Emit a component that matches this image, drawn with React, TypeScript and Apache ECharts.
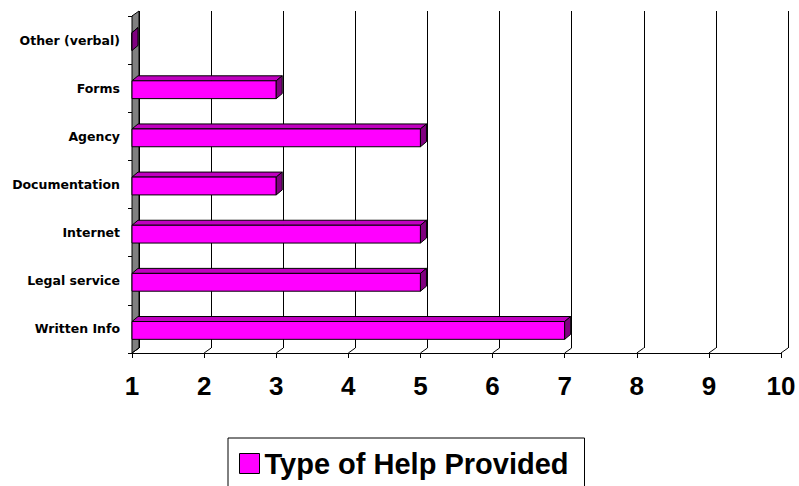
import React, { useEffect, useRef } from "react";
import * as echarts from "echarts";

const categories = ["Written Info", "Legal service", "Internet", "Documentation", "Agency", "Forms", "Other (verbal)"];
const helpValues = [7, 5, 5, 3, 5, 3, 1];
const xTicks = [1, 2, 3, 4, 5, 6, 7, 8, 9, 10];
const seriesName = "Type of Help Provided";

const X_MIN = 1;
const X_MAX = 10;
const WALL_DX = 7;
const WALL_DY = 5;
const BAR_DX = 6;
const BAR_DY = 5;

export default function App() {
  const ref = useRef<HTMLDivElement>(null);

  useEffect(() => {
    if (!ref.current) return;
    const chart = echarts.init(ref.current, null, { renderer: "svg" });

    const option: any = {
      animation: false,
      backgroundColor: "#ffffff",
      grid: [
        { left: 132, right: 18, top: 16, bottom: 133 },
        { left: 139, right: 11, top: 11, bottom: 138 },
      ],
      xAxis: [
        {
          gridIndex: 0,
          type: "value",
          min: X_MIN,
          max: X_MAX,
          interval: 1,
          axisLine: { show: true, lineStyle: { color: "#000", width: 1 } },
          axisTick: { show: true, length: 5, lineStyle: { color: "#000" } },
          splitLine: { show: false },
          axisLabel: {
            margin: 20,
            color: "#000",
            fontFamily: "'Liberation Sans', Arial, sans-serif",
            fontWeight: "bold",
            fontSize: 26,
          },
        },
        {
          gridIndex: 1,
          type: "value",
          min: X_MIN,
          max: X_MAX,
          interval: 1,
          axisLine: { show: false },
          axisTick: { show: false },
          axisLabel: { show: false },
          splitLine: { show: true, lineStyle: { color: "#000", width: 1 } },
        },
      ],
      yAxis: [
        {
          gridIndex: 0,
          type: "category",
          data: categories,
          axisLine: { show: true, lineStyle: { color: "#000", width: 1 } },
          axisTick: { show: true, length: 4, lineStyle: { color: "#000" } },
          splitLine: { show: false },
          axisLabel: {
            margin: 12,
            color: "#000",
            fontFamily: "'DejaVu Sans', sans-serif",
            fontWeight: "bold",
            fontSize: 12.5,
          },
        },
        {
          gridIndex: 1,
          type: "value",
          min: 0,
          max: 1,
          show: false,
        },
      ],
      legend: {
        left: 228,
        top: 438,
        data: [
          {
            name: seriesName,
            icon: "rect",
            itemStyle: { color: "#FF00FF", borderColor: "#000", borderWidth: 1 },
          },
        ],
        itemWidth: 20,
        itemHeight: 20,
        itemGap: 5,
        padding: [11, 16, 20, 11],
        borderColor: "#000",
        borderWidth: 1,
        textStyle: {
          color: "#000",
          fontFamily: "'Liberation Sans', Arial, sans-serif",
          fontWeight: "bold",
          fontSize: 29,
        },
      },
      series: [
        {
          type: "custom",
          name: "walls",
          xAxisIndex: 0,
          yAxisIndex: 0,
          silent: true,
          z: 1,
          data: [[X_MIN, 0]],
          renderItem: (params: any, api: any) => {
            const cs = params.coordSys;
            const left = cs.x;
            const top = cs.y;
            const bottom = cs.y + cs.height;
            const children: any[] = [
              {
                type: "polygon",
                shape: {
                  points: [
                    [left, top],
                    [left + WALL_DX, top - WALL_DY],
                    [left + WALL_DX, bottom - WALL_DY],
                    [left, bottom],
                  ],
                },
                style: { fill: "#808080", stroke: "#000", lineWidth: 1 },
              },
            ];
            xTicks.forEach((t) => {
              const px = api.coord([t, 0])[0];
              children.push({
                type: "line",
                shape: { x1: px, y1: bottom, x2: px + WALL_DX, y2: bottom - WALL_DY },
                style: { stroke: "#000", lineWidth: 1 },
              });
            });
            return { type: "group", children };
          },
        },
        {
          type: "custom",
          name: seriesName,
          xAxisIndex: 0,
          yAxisIndex: 0,
          z: 3,
          itemStyle: { color: "#FF00FF", borderColor: "#000", borderWidth: 1 },
          data: helpValues.map((v, i) => [v, i]),
          renderItem: (params: any, api: any) => {
            const v = api.value(0);
            const ci = api.value(1);
            const p1 = api.coord([X_MIN, ci]);
            const p2 = api.coord([v, ci]);
            const band = api.size([0, 1])[1];
            const h = band * 0.37;
            const yc = p1[1] + 1.5;
            const y0 = yc - h / 2;
            const y1 = yc + h / 2;
            const x0 = p1[0];
            const x1 = p2[0];
            return {
              type: "group",
              children: [
                {
                  type: "polygon",
                  shape: {
                    points: [
                      [x0, y0],
                      [x0 + BAR_DX, y0 - BAR_DY],
                      [x1 + BAR_DX, y0 - BAR_DY],
                      [x1, y0],
                    ],
                  },
                  style: { fill: "#C000C0", stroke: "#000", lineWidth: 1 },
                },
                {
                  type: "rect",
                  shape: { x: x0, y: y0, width: Math.max(x1 - x0, 0), height: h },
                  style: { fill: "#FF00FF", stroke: "#000", lineWidth: 1 },
                },
                {
                  type: "polygon",
                  shape: {
                    points: [
                      [x1, y0],
                      [x1 + BAR_DX, y0 - BAR_DY],
                      [x1 + BAR_DX, y1 - BAR_DY],
                      [x1, y1],
                    ],
                  },
                  style: { fill: "#800080", stroke: "#000", lineWidth: 1 },
                },
              ],
            };
          },
        },
      ],
    };

    chart.setOption(option);
    return () => chart.dispose();
  }, []);

  return <div ref={ref} style={{ width: 799, height: 486, position: "absolute", left: 0, top: 0 }} />;
}
